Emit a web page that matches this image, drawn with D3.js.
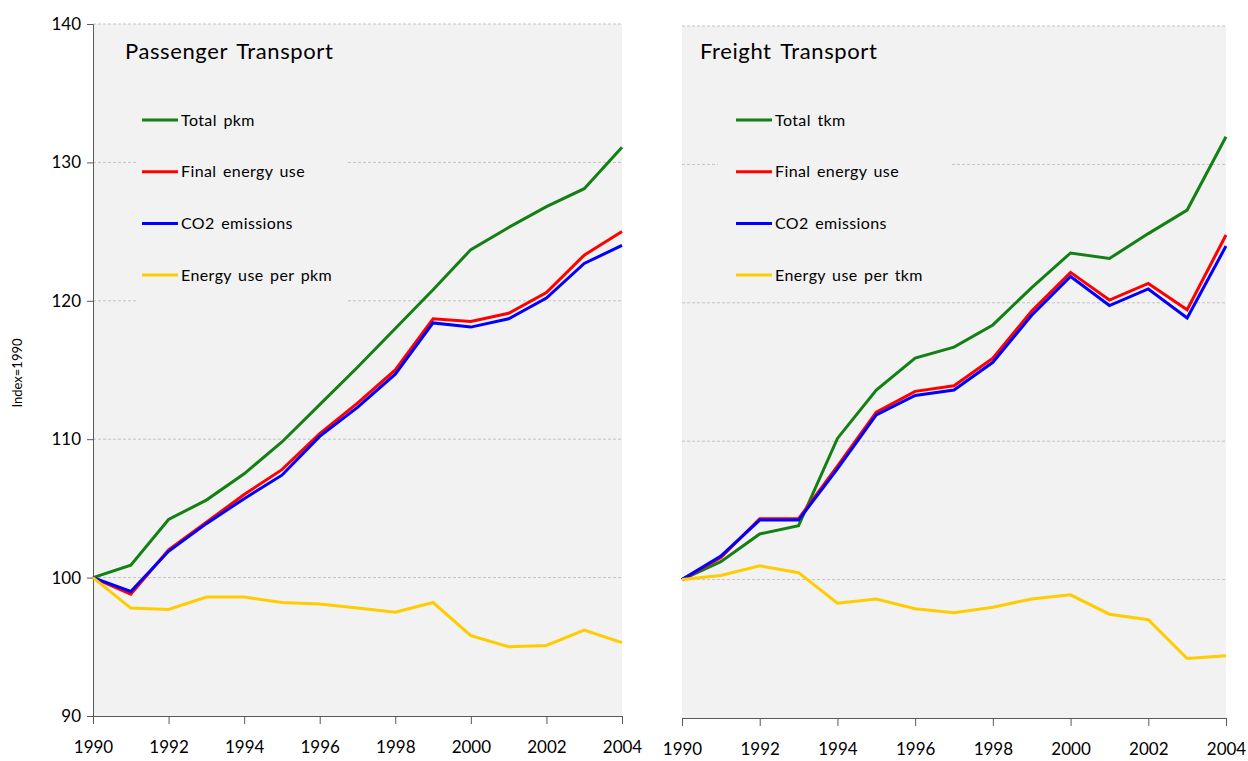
<!DOCTYPE html>
<html>
<head>
<meta charset="utf-8">
<script src="https://cdn.jsdelivr.net/npm/d3@7"></script>
<style>
  body { margin: 0; background: #fff; }
  svg text { font-family: Lato, "Open Sans", sans-serif; fill: #000; }
</style>
</head>
<body>
<svg id="chart" width="1248" height="761"></svg>
<script>
// years on the x axis
const years = [1990, 1991, 1992, 1993, 1994, 1995, 1996, 1997, 1998, 1999, 2000, 2001, 2002, 2003, 2004];
const xTicks = [1990, 1992, 1994, 1996, 1998, 2000, 2002, 2004];
const yTicks = [90, 100, 110, 120, 130, 140];

// passenger transport (index 1990 = 100)
const passengerTotal = [100, 100.9, 104.2, 105.6, 107.5, 109.8, 112.5, 115.2, 118.0, 120.8, 123.7, 125.3, 126.8, 128.1, 131.1];
const passengerEnergy = [100, 98.8, 102.0, 104.0, 106.0, 107.8, 110.4, 112.6, 115.0, 118.7, 118.5, 119.1, 120.6, 123.3, 125.0];
const passengerCO2 = [100, 99.0, 101.9, 103.9, 105.7, 107.4, 110.2, 112.3, 114.7, 118.4, 118.1, 118.7, 120.2, 122.7, 124.0];
const passengerPerPkm = [100, 97.8, 97.7, 98.6, 98.6, 98.2, 98.1, 97.8, 97.5, 98.2, 95.8, 95.0, 95.1, 96.2, 95.3];

// freight transport (index 1990 = 100)
const freightTotal = [100, 101.3, 103.3, 103.9, 110.2, 113.7, 116.0, 116.8, 118.4, 121.1, 123.6, 123.2, 125.0, 126.7, 132.0];
const freightEnergy = [100, 101.6, 104.4, 104.4, 108.2, 112.1, 113.6, 114.0, 116.0, 119.4, 122.2, 120.2, 121.4, 119.5, 124.9];
const freightCO2 = [100, 101.7, 104.3, 104.3, 108.0, 111.9, 113.3, 113.7, 115.7, 119.1, 121.9, 119.8, 121.0, 118.9, 124.1];
const freightPerTkm = [100, 100.3, 101.0, 100.5, 98.3, 98.6, 97.9, 97.6, 98.0, 98.6, 98.9, 97.5, 97.1, 94.3, 94.5];

const colors = { total: "#138013", energy: "#ff0000", co2: "#0000ff", per: "#ffcc00" };

const panels = [
  {
    title: "Passenger Transport",
    left: 93, right: 622, top: 24, bottom: 716, yAxis: true,
    legendBox: { x: 137, y: 92, w: 211, h: 218 },
    legendX: 142,
    series: [
      { name: "Total pkm", values: passengerTotal, color: colors.total },
      { name: "Final energy use", values: passengerEnergy, color: colors.energy },
      { name: "CO2 emissions", values: passengerCO2, color: colors.co2 },
      { name: "Energy use per pkm", values: passengerPerPkm, color: colors.per }
    ]
  },
  {
    title: "Freight Transport",
    left: 682, right: 1226, top: 26, bottom: 718, yAxis: false,
    legendBox: { x: 718, y: 92, w: 233, h: 200 },
    legendX: 736,
    series: [
      { name: "Total tkm", values: freightTotal, color: colors.total },
      { name: "Final energy use", values: freightEnergy, color: colors.energy },
      { name: "CO2 emissions", values: freightCO2, color: colors.co2 },
      { name: "Energy use per tkm", values: freightPerTkm, color: colors.per }
    ]
  }
];

const svg = d3.select("#chart");

panels.forEach(p => {
  const x = d3.scaleLinear().domain([1990, 2004]).range([p.left, p.right]);
  const y = d3.scaleLinear().domain([90, 140]).range([p.bottom, p.top]);

  const g = svg.append("g");

  // plot background
  g.append("rect")
    .attr("x", p.left)
    .attr("y", p.top)
    .attr("width", p.right - p.left)
    .attr("height", p.bottom - p.top)
    .attr("fill", "#f2f2f2");

  // dashed gridlines
  g.selectAll(".grid")
    .data(yTicks.filter(d => d > 90))
    .enter().append("line")
    .attr("class", "grid")
    .attr("x1", p.left)
    .attr("x2", p.right)
    .attr("y1", d => y(d))
    .attr("y2", d => y(d))
    .attr("stroke", "#c3c3c3")
    .attr("stroke-width", 1)
    .attr("stroke-dasharray", "3,2");

  // legend background hides gridlines behind it
  g.append("rect")
    .attr("x", p.legendBox.x)
    .attr("y", p.legendBox.y)
    .attr("width", p.legendBox.w)
    .attr("height", p.legendBox.h)
    .attr("fill", "#f2f2f2");

  // x axis
  const xAxis = g.append("g")
    .attr("transform", `translate(0,${p.bottom})`)
    .call(d3.axisBottom(x).tickValues(xTicks).tickFormat(d3.format("d")).tickSize(8).tickPadding(17));
  xAxis.select(".domain").attr("stroke", "#595959");
  xAxis.selectAll(".tick line").attr("stroke", "#595959");
  xAxis.selectAll("text").attr("font-size", 17).attr("fill", "#000");

  if (p.yAxis) {
    const yAxis = g.append("g")
      .attr("transform", `translate(${p.left},0)`)
      .call(d3.axisLeft(y).tickValues(yTicks).tickSize(6).tickPadding(6));
    yAxis.select(".domain").attr("stroke", "#595959");
    yAxis.selectAll(".tick line").attr("stroke", "#595959");
    yAxis.selectAll("text").attr("font-size", 17).attr("fill", "#000");
  }

  // lines
  const line = d3.line()
    .x((d, i) => x(years[i]))
    .y(d => y(d));

  g.selectAll(".series")
    .data(p.series)
    .enter().append("path")
    .attr("class", "series")
    .attr("d", d => line(d.values))
    .attr("fill", "none")
    .attr("stroke", d => d.color)
    .attr("stroke-width", 3)
    .attr("stroke-linejoin", "miter");

  // title
  g.append("text")
    .attr("x", p.left + (p.yAxis ? 32 : 18))
    .attr("y", 59)
    .attr("font-size", 22)
    .attr("letter-spacing", 0.6)
    .attr("word-spacing", 3)
    .text(p.title);

  // legend
  const leg = g.selectAll(".legend")
    .data(p.series)
    .enter().append("g")
    .attr("class", "legend")
    .attr("transform", (d, i) => `translate(${p.legendX},${120 + i * 51.7})`);

  leg.append("line")
    .attr("x1", 0)
    .attr("x2", 36)
    .attr("stroke", d => d.color)
    .attr("stroke-width", 3);

  leg.append("text")
    .attr("x", 39)
    .attr("dy", "0.35em")
    .attr("font-size", 16)
    .attr("letter-spacing", 0.4)
    .attr("word-spacing", 2)
    .text(d => d.name);
});

// y axis label
svg.append("text")
  .attr("transform", "rotate(-90)")
  .attr("x", -373)
  .attr("y", 22)
  .attr("text-anchor", "middle")
  .attr("font-size", 13)
  .text("Index=1990");
</script>
</body>
</html>
